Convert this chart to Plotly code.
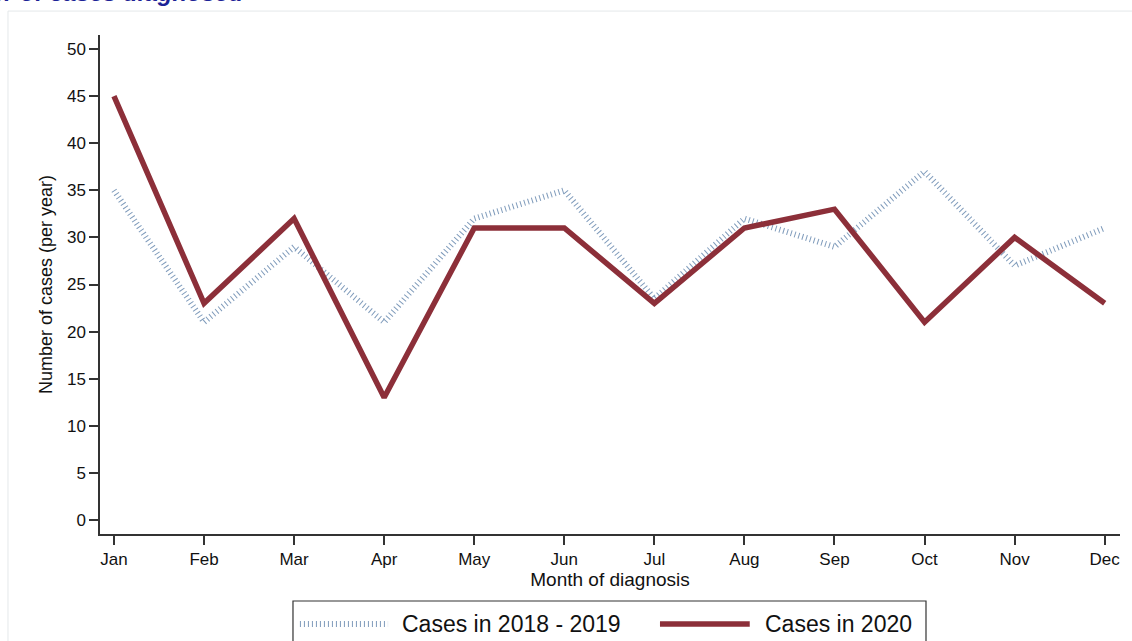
import plotly.graph_objects as go

months = ['Jan', 'Feb', 'Mar', 'Apr', 'May', 'Jun', 'Jul', 'Aug', 'Sep', 'Oct', 'Nov', 'Dec']
cases_2018_2019 = [35, 21, 29, 21, 32, 35, 23.5, 32, 29, 37, 27, 31]
cases_2020 = [45, 23, 32, 13, 31, 31, 23, 31, 33, 21, 30, 23]
y_ticks = [0, 5, 10, 15, 20, 25, 30, 35, 40, 45, 50]

RED = '#8c2f39'
BLUE = '#7f9bbb'
FONT = 'Liberation Sans, Arial, sans-serif'

fig = go.Figure()

fig.add_trace(go.Scatter(
    x=months, y=cases_2018_2019, mode='lines', name='Cases in 2018 - 2019',
    line=dict(color=BLUE, width=6, dash='1px,3px'),
))
fig.add_trace(go.Scatter(
    x=months, y=cases_2020, mode='lines', name='Cases in 2020',
    line=dict(color=RED, width=5.5),
))

fig.update_layout(
    width=1132, height=641,
    margin=dict(l=100, r=12, t=35, b=107),
    paper_bgcolor='white', plot_bgcolor='white',
    font=dict(family=FONT, size=17, color='#111'),
    showlegend=False,
    xaxis=dict(
        type='category', range=[-0.155, 11.17],
        showline=True, linecolor='#333', linewidth=1.5,
        ticks='outside', ticklen=9, tickcolor='#333', tickwidth=1.5,
        showgrid=False, zeroline=False, tickfont=dict(size=17),
        title=dict(text='Month of diagnosis', font=dict(size=19), standoff=2),
    ),
    yaxis=dict(
        range=[-1.5, 51.5], tickvals=y_ticks,
        showline=True, linecolor='#333', linewidth=1.5,
        ticks='outside', ticklen=9, tickcolor='#333', tickwidth=1.5,
        showgrid=False, zeroline=False, tickfont=dict(size=17),
        title=dict(text='Number of cases (per year)', font=dict(size=18), standoff=10),
    ),
    yaxis2=dict(
        overlaying='y', range=[-1.5, 51.5], tickvals=y_ticks[1:],
        showticklabels=False, ticks='', showline=False, zeroline=False,
        showgrid=True, gridcolor='#e6eef1', gridwidth=2,
    ),
)

# outer frame
fig.add_shape(type='rect', xref='paper', yref='paper',
              x0=-0.0902, x1=1.02, y0=-0.23, y1=1.048,
              line=dict(color='#e4e8ea', width=1), layer='below')

# cut-off title at top
fig.add_annotation(
    text='<b><i>Number of cases diagnosed</i></b>', xref='paper', yref='paper',
    x=0.143, y=1.054, xanchor='right', yanchor='bottom', showarrow=False,
    font=dict(size=24, color='#1c2396', family=FONT),
)

# legend drawn by hand (wider samples than plotly's legend)
fig.add_shape(type='rect', xref='paper', yref='paper',
              x0=0.1892, x1=0.8098, y0=-0.23, y1=-0.1343,
              line=dict(color='#333', width=1.2))
fig.add_shape(type='line', xref='paper', yref='paper',
              x0=0.196, x1=0.2824, y0=-0.1804, y1=-0.1804,
              line=dict(color=BLUE, width=6, dash='1px,3px'))
fig.add_shape(type='line', xref='paper', yref='paper',
              x0=0.549, x1=0.637, y0=-0.1804, y1=-0.1804,
              line=dict(color=RED, width=5.5))
fig.add_annotation(text='Cases in 2018 - 2019', xref='paper', yref='paper',
                   x=0.294, y=-0.1804, xanchor='left', yanchor='middle',
                   showarrow=False, font=dict(size=23, color='#111'))
fig.add_annotation(text='Cases in 2020', xref='paper', yref='paper',
                   x=0.650, y=-0.1804, xanchor='left', yanchor='middle',
                   showarrow=False, font=dict(size=23, color='#111'))

# page margin off so the figure sits at the window's corner
fig.write_html('out.html', config={'displayModeBar': False},
               post_script="document.body.style.margin='0';")
